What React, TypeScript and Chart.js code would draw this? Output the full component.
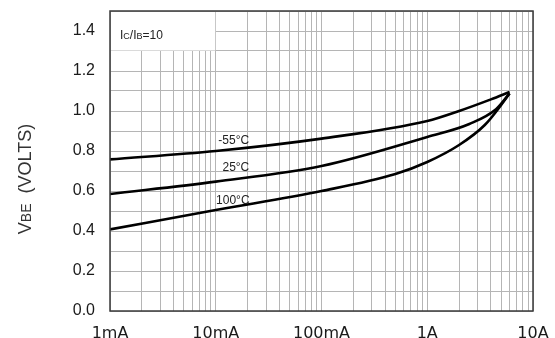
import React, { useEffect, useRef } from "react";
import { Chart, registerables } from "chart.js";

Chart.register(...registerables);

// ---- data ----
const xTickLabels = ["1mA", "10mA", "100mA", "1A", "10A"];
const xDecades = [0.001, 0.01, 0.1, 1, 10];

const seriesNames = ["-55°C", "25°C", "100°C"];

const m55Current = [0.001, 0.01, 0.1, 1.0, 2.0, 4.0, 6.0];
const m55Vbe = [0.758, 0.8, 0.862, 0.95, 1.0, 1.058, 1.095];

const t25Current = [0.001, 0.01, 0.1, 1.0, 2.5, 4.5, 6.0];
const t25Vbe = [0.585, 0.647, 0.725, 0.87, 0.935, 1.01, 1.088];

const t100Current = [0.001, 0.01, 0.1, 0.5, 1.0, 2.0, 3.5, 5.0, 6.0];
const t100Vbe = [0.408, 0.505, 0.6, 0.685, 0.745, 0.83, 0.93, 1.03, 1.088];

// label anchors (data space) for the curve names
const labelCurrent = [0.0148, 0.0155, 0.0145];
const labelVbe = [0.85, 0.715, 0.55];

const FONT = "'Liberation Sans', Arial, Helvetica, sans-serif";
const WIDE_FONT = "'DejaVu Sans', Verdana, sans-serif";

function toPoints(xs: number[], ys: number[]) {
  return xs.map((x, i) => ({ x, y: ys[i] }));
}

function buildLogTicks() {
  const vals: number[] = [];
  for (let d = -3; d <= 0; d++) {
    for (let m = 1; m <= 9; m++) {
      vals.push(parseFloat((m * Math.pow(10, d)).toPrecision(3)));
    }
  }
  vals.push(10);
  return vals;
}

function drawRich(
  ctx: CanvasRenderingContext2D,
  parts: { t: string; s: number }[],
  x: number,
  y: number,
  align: "left" | "center"
) {
  let total = 0;
  const widths = parts.map((p) => {
    ctx.font = `${p.s}px ${FONT}`;
    const w = ctx.measureText(p.t).width;
    total += w;
    return w;
  });
  let cx = align === "center" ? x - total / 2 : x;
  ctx.textBaseline = "alphabetic";
  ctx.textAlign = "left";
  parts.forEach((p, i) => {
    ctx.font = `${p.s}px ${FONT}`;
    ctx.fillText(p.t, cx, y);
    cx += widths[i];
  });
}

const decor = {
  id: "decor",
  beforeDatasetsDraw(chart: any) {
    const { ctx, scales } = chart;
    const xs = scales.x;
    const ys = scales.y;
    const x0 = xs.getPixelForValue(xDecades[0]);
    const x1 = xs.getPixelForValue(xDecades[1]);
    const y0 = ys.getPixelForValue(1.5);
    const y1 = ys.getPixelForValue(1.3);
    ctx.save();
    ctx.fillStyle = "#ffffff";
    ctx.fillRect(x0 + 1, y0 + 1, x1 - x0 - 1.5, y1 - y0 - 1.5);
    ctx.restore();
  },
  afterDraw(chart: any) {
    const { ctx, chartArea, scales } = chart;
    const xs = scales.x;
    const ys = scales.y;
    ctx.save();
    // frame
    ctx.strokeStyle = "#3a3a3a";
    ctx.lineWidth = 1.5;
    ctx.strokeRect(
      chartArea.left,
      chartArea.top,
      chartArea.right - chartArea.left,
      chartArea.bottom - chartArea.top
    );
    // curve labels
    ctx.fillStyle = "#222";
    ctx.font = `12px ${FONT}`;
    ctx.textAlign = "center";
    ctx.textBaseline = "middle";
    seriesNames.forEach((n, i) => {
      ctx.fillText(n, xs.getPixelForValue(labelCurrent[i]), ys.getPixelForValue(labelVbe[i]));
    });
    // Ic/Ib label
    ctx.fillStyle = "#222";
    drawRich(
      ctx,
      [
        { t: "I", s: 12 },
        { t: "C", s: 9 },
        { t: "/I", s: 12 },
        { t: "B", s: 9 },
        { t: "=10", s: 12 },
      ],
      chartArea.left + 10,
      ys.getPixelForValue(1.4) + 8,
      "left"
    );
    // y-axis title
    ctx.translate(31, 179);
    ctx.rotate(-Math.PI / 2);
    ctx.fillStyle = "#333";
    drawRich(
      ctx,
      [
        { t: "V", s: 18 },
        { t: "BE", s: 14 },
        { t: "  (VOLTS)", s: 18 },
      ],
      0,
      0,
      "center"
    );
    ctx.restore();
  },
};

export default function App() {
  const ref = useRef<HTMLCanvasElement | null>(null);

  useEffect(() => {
    document.body.style.margin = "0";
    const canvas = ref.current;
    if (!canvas) return;
    const lineStyle = {
      borderColor: "#000",
      borderWidth: 2.6,
      pointRadius: 0,
      fill: false,
      cubicInterpolationMode: "monotone" as const,
    };
    const logTicks = buildLogTicks();
    const chart = new Chart(canvas, {
      type: "line",
      data: {
        datasets: [
          { label: seriesNames[0], data: toPoints(m55Current, m55Vbe), ...lineStyle },
          { label: seriesNames[1], data: toPoints(t25Current, t25Vbe), ...lineStyle },
          { label: seriesNames[2], data: toPoints(t100Current, t100Vbe), ...lineStyle },
        ],
      },
      options: {
        animation: false,
        responsive: false,
        maintainAspectRatio: false,
        layout: { padding: { left: 0, right: 22, top: 11, bottom: 0 } },
        plugins: { legend: { display: false }, tooltip: { enabled: false } },
        scales: {
          x: {
            type: "logarithmic",
            min: 0.001,
            max: 10,
            afterBuildTicks: (s: any) => {
              s.ticks = logTicks.map((v) => ({ value: v }));
            },
            afterFit: (s: any) => {
              s.height = 27;
              s.paddingLeft = 0;
              s.paddingRight = 0;
            },
            grid: { color: "#b5b5b5", lineWidth: 1, drawTicks: false },
            border: { display: false },
            ticks: {
              autoSkip: false,
              maxRotation: 0,
              minRotation: 0,
              padding: 13,
              color: "#1a1a1a",
              font: { family: WIDE_FONT, size: 16 },
              callback: (v: any) => {
                const val = Number(v);
                const idx = xDecades.findIndex((d) => Math.abs(val / d - 1) < 1e-6);
                return idx >= 0 ? xTickLabels[idx] : "";
              },
            },
          },
          y: {
            min: 0,
            max: 1.5,
            afterFit: (s: any) => {
              s.width = 110;
              s.paddingTop = 0;
              s.paddingBottom = 0;
            },
            grid: { color: "#b5b5b5", lineWidth: 1, drawTicks: false },
            border: { display: false },
            ticks: {
              stepSize: 0.1,
              autoSkip: false,
              padding: 15,
              color: "#1a1a1a",
              font: { family: FONT, size: 16 },
              callback: (v: any) => {
                const k = Math.round(Number(v) * 10);
                return k % 2 === 0 ? (k / 10).toFixed(1) : "";
              },
            },
          },
        },
      },
      plugins: [decor],
    });
    return () => chart.destroy();
  }, []);

  return (
    <div style={{ width: 555, height: 338, overflow: "hidden", background: "#fff" }}>
      <canvas ref={ref} width={555} height={338} style={{ display: "block" }} />
    </div>
  );
}
